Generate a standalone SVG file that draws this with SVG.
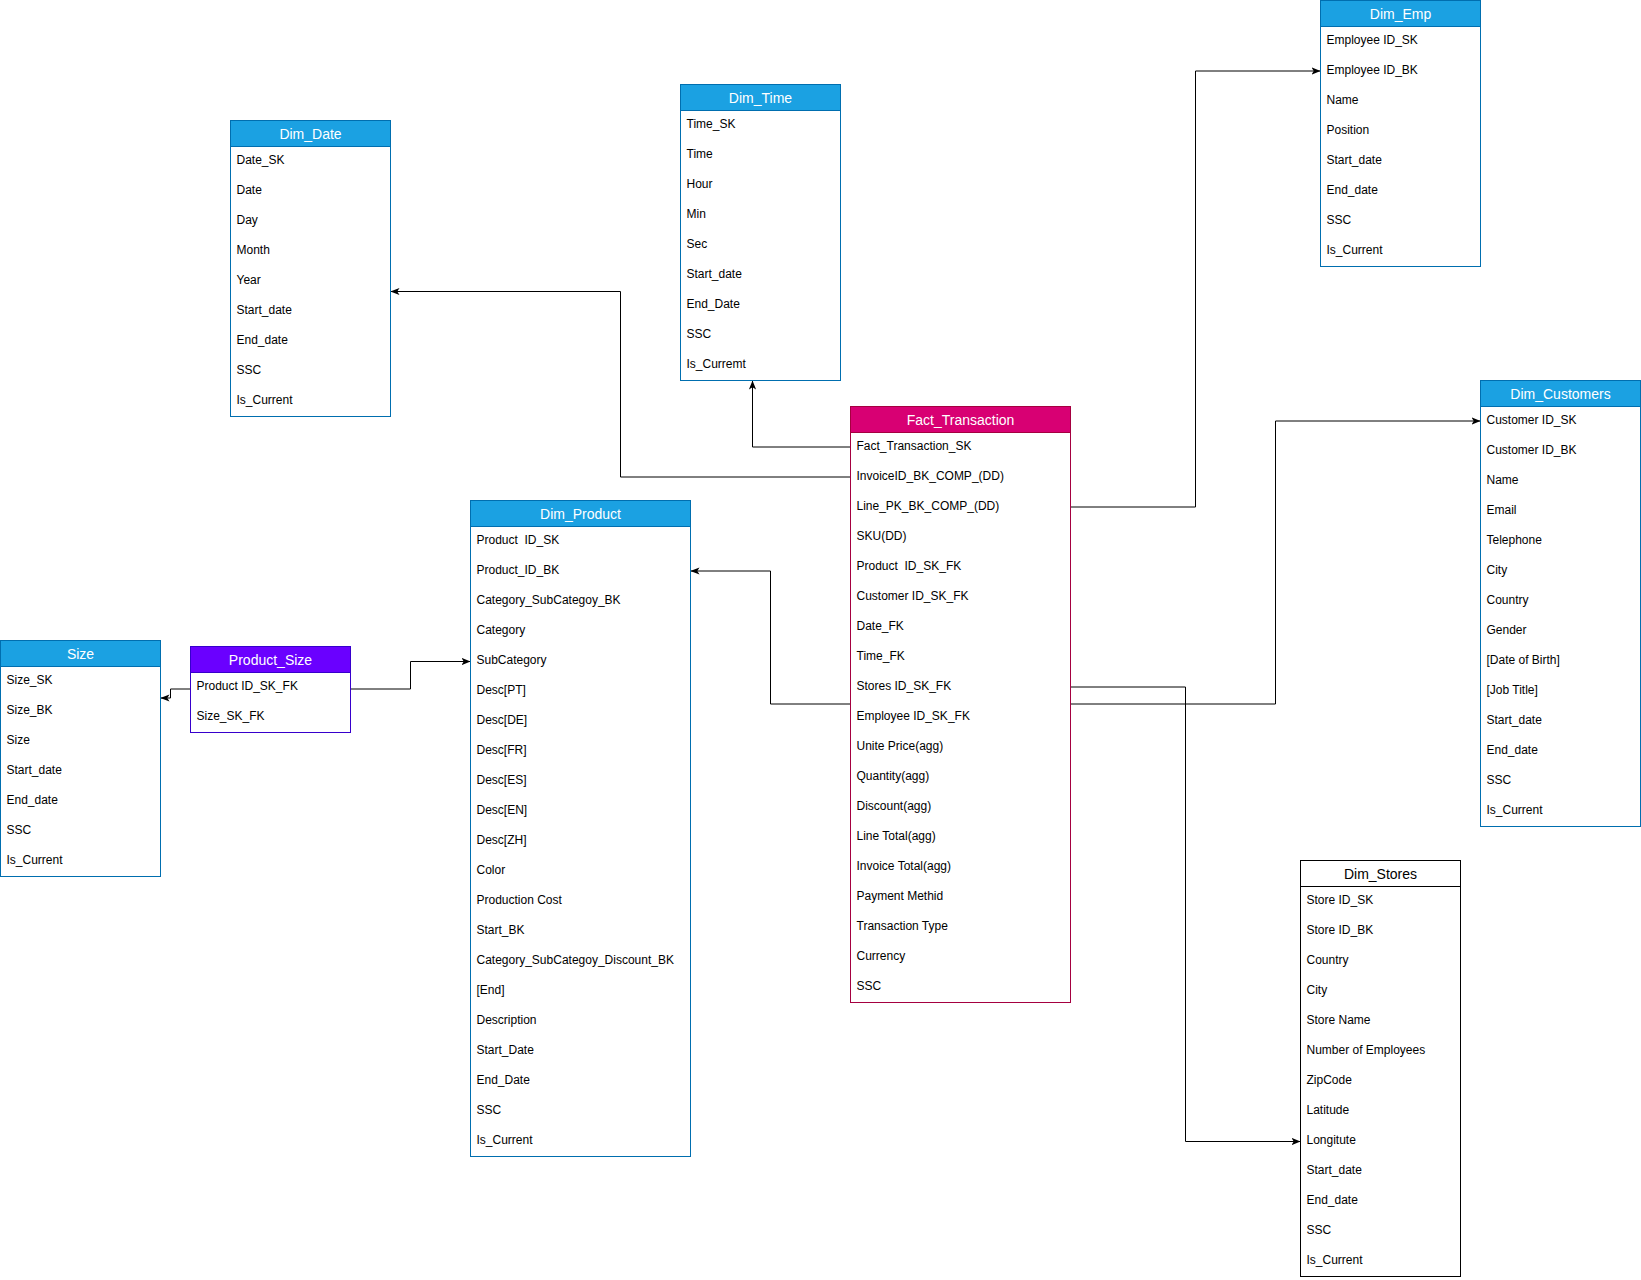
<svg xmlns="http://www.w3.org/2000/svg" width="1641" height="1280" viewBox="0 0 1641 1280">
<style>
text { font-family: "Liberation Sans", Arial, sans-serif; }
.row { font-size: 12px; fill: #000; }
.hdr { font-size: 14px; fill: #fff; text-anchor: middle; }
.hdrk { font-size: 14px; fill: #000; text-anchor: middle; }
.blue .box { fill: #fff; stroke: #006EAF; stroke-width: 1; }
.blue .head { fill: #1ba1e2; stroke: #006EAF; stroke-width: 1; }
.mag .box { fill: #fff; stroke: #A50040; stroke-width: 1; }
.mag .head { fill: #d80073; stroke: #A50040; stroke-width: 1; }
.vio .box { fill: #fff; stroke: #3700CC; stroke-width: 1; }
.vio .head { fill: #6a00ff; stroke: #3700CC; stroke-width: 1; }
.plain .box { fill: #fff; stroke: #000; stroke-width: 1; }
.plain .head { fill: #fff; stroke: #000; stroke-width: 1; }
.conn path { fill: none; stroke: #000; stroke-width: 1; marker-end: url(#arr); }
</style>
<defs>
<marker id="arr" viewBox="0 0 10 10" refX="10" refY="5" markerWidth="9" markerHeight="9" markerUnits="userSpaceOnUse" orient="auto">
<path d="M0,1 L10,5 L0,9 L2.5,5 z" fill="#000" stroke="none"/>
</marker>
</defs>
<rect width="1641" height="1280" fill="#fff"/>

<g id="connectors" class="conn">
<path d="M850.5,447 H752.5 V380.5"/>
<path d="M850.5,477 H620.5 V291.5 H390.5"/>
<path d="M1070.5,507 H1195.5 V71 H1320.5"/>
<path d="M850.5,704 H770.5 V571 H690.5"/>
<path d="M1070.5,704 H1275.5 V421 H1480.5"/>
<path d="M1070.5,687 H1185.5 V1141.5 H1300.5"/>
<path d="M190.5,689 H170.5 V698 H160.5"/>
<path d="M350.5,689 H410.5 V661.5 H470.5"/>
</g>

<g id="Dim_Date" class="blue">
<rect class="box" x="230.5" y="120.5" width="160" height="296"/>
<rect class="head" x="230.5" y="120.5" width="160" height="26"/>
<text class="hdr" x="310.5" y="138.5">Dim_Date</text>
<text class="row" x="236.5" y="164">Date_SK</text>
<text class="row" x="236.5" y="194">Date</text>
<text class="row" x="236.5" y="224">Day</text>
<text class="row" x="236.5" y="254">Month</text>
<text class="row" x="236.5" y="284">Year</text>
<text class="row" x="236.5" y="314">Start_date</text>
<text class="row" x="236.5" y="344">End_date</text>
<text class="row" x="236.5" y="374">SSC</text>
<text class="row" x="236.5" y="404">Is_Current</text>
</g>

<g id="Dim_Time" class="blue">
<rect class="box" x="680.5" y="84.5" width="160" height="296"/>
<rect class="head" x="680.5" y="84.5" width="160" height="26"/>
<text class="hdr" x="760.5" y="102.5">Dim_Time</text>
<text class="row" x="686.5" y="128">Time_SK</text>
<text class="row" x="686.5" y="158">Time</text>
<text class="row" x="686.5" y="188">Hour</text>
<text class="row" x="686.5" y="218">Min</text>
<text class="row" x="686.5" y="248">Sec</text>
<text class="row" x="686.5" y="278">Start_date</text>
<text class="row" x="686.5" y="308">End_Date</text>
<text class="row" x="686.5" y="338">SSC</text>
<text class="row" x="686.5" y="368">Is_Curremt</text>
</g>

<g id="Dim_Emp" class="blue">
<rect class="box" x="1320.5" y="0.5" width="160" height="266"/>
<rect class="head" x="1320.5" y="0.5" width="160" height="26"/>
<text class="hdr" x="1400.5" y="18.5">Dim_Emp</text>
<text class="row" x="1326.5" y="44">Employee ID_SK</text>
<text class="row" x="1326.5" y="74">Employee ID_BK</text>
<text class="row" x="1326.5" y="104">Name</text>
<text class="row" x="1326.5" y="134">Position</text>
<text class="row" x="1326.5" y="164">Start_date</text>
<text class="row" x="1326.5" y="194">End_date</text>
<text class="row" x="1326.5" y="224">SSC</text>
<text class="row" x="1326.5" y="254">Is_Current</text>
</g>

<g id="Fact_Transaction" class="mag">
<rect class="box" x="850.5" y="406.5" width="220" height="596"/>
<rect class="head" x="850.5" y="406.5" width="220" height="26"/>
<text class="hdr" x="960.5" y="424.5">Fact_Transaction</text>
<text class="row" x="856.5" y="450">Fact_Transaction_SK</text>
<text class="row" x="856.5" y="480">InvoiceID_BK_COMP_(DD)</text>
<text class="row" x="856.5" y="510">Line_PK_BK_COMP_(DD)</text>
<text class="row" x="856.5" y="540">SKU(DD)</text>
<text class="row" x="856.5" y="570" xml:space="preserve">Product  ID_SK_FK</text>
<text class="row" x="856.5" y="600">Customer ID_SK_FK</text>
<text class="row" x="856.5" y="630">Date_FK</text>
<text class="row" x="856.5" y="660">Time_FK</text>
<text class="row" x="856.5" y="690">Stores ID_SK_FK</text>
<text class="row" x="856.5" y="720">Employee ID_SK_FK</text>
<text class="row" x="856.5" y="750">Unite Price(agg)</text>
<text class="row" x="856.5" y="780">Quantity(agg)</text>
<text class="row" x="856.5" y="810">Discount(agg)</text>
<text class="row" x="856.5" y="840">Line Total(agg)</text>
<text class="row" x="856.5" y="870">Invoice Total(agg)</text>
<text class="row" x="856.5" y="900">Payment Methid</text>
<text class="row" x="856.5" y="930">Transaction Type</text>
<text class="row" x="856.5" y="960">Currency</text>
<text class="row" x="856.5" y="990">SSC</text>
</g>

<g id="Dim_Customers" class="blue">
<rect class="box" x="1480.5" y="380.5" width="160" height="446"/>
<rect class="head" x="1480.5" y="380.5" width="160" height="26"/>
<text class="hdr" x="1560.5" y="398.5">Dim_Customers</text>
<text class="row" x="1486.5" y="424">Customer ID_SK</text>
<text class="row" x="1486.5" y="454">Customer ID_BK</text>
<text class="row" x="1486.5" y="484">Name</text>
<text class="row" x="1486.5" y="514">Email</text>
<text class="row" x="1486.5" y="544">Telephone</text>
<text class="row" x="1486.5" y="574">City</text>
<text class="row" x="1486.5" y="604">Country</text>
<text class="row" x="1486.5" y="634">Gender</text>
<text class="row" x="1486.5" y="664">[Date of Birth]</text>
<text class="row" x="1486.5" y="694">[Job Title]</text>
<text class="row" x="1486.5" y="724">Start_date</text>
<text class="row" x="1486.5" y="754">End_date</text>
<text class="row" x="1486.5" y="784">SSC</text>
<text class="row" x="1486.5" y="814">Is_Current</text>
</g>

<g id="Dim_Product" class="blue">
<rect class="box" x="470.5" y="500.5" width="220" height="656"/>
<rect class="head" x="470.5" y="500.5" width="220" height="26"/>
<text class="hdr" x="580.5" y="518.5">Dim_Product</text>
<text class="row" x="476.5" y="544" xml:space="preserve">Product  ID_SK</text>
<text class="row" x="476.5" y="574">Product_ID_BK</text>
<text class="row" x="476.5" y="604">Category_SubCategoy_BK</text>
<text class="row" x="476.5" y="634">Category</text>
<text class="row" x="476.5" y="664">SubCategory</text>
<text class="row" x="476.5" y="694">Desc[PT]</text>
<text class="row" x="476.5" y="724">Desc[DE]</text>
<text class="row" x="476.5" y="754">Desc[FR]</text>
<text class="row" x="476.5" y="784">Desc[ES]</text>
<text class="row" x="476.5" y="814">Desc[EN]</text>
<text class="row" x="476.5" y="844">Desc[ZH]</text>
<text class="row" x="476.5" y="874">Color</text>
<text class="row" x="476.5" y="904">Production Cost</text>
<text class="row" x="476.5" y="934">Start_BK</text>
<text class="row" x="476.5" y="964">Category_SubCategoy_Discount_BK</text>
<text class="row" x="476.5" y="994">[End]</text>
<text class="row" x="476.5" y="1024">Description</text>
<text class="row" x="476.5" y="1054">Start_Date</text>
<text class="row" x="476.5" y="1084">End_Date</text>
<text class="row" x="476.5" y="1114">SSC</text>
<text class="row" x="476.5" y="1144">Is_Current</text>
</g>

<g id="Size" class="blue">
<rect class="box" x="0.5" y="640.5" width="160" height="236"/>
<rect class="head" x="0.5" y="640.5" width="160" height="26"/>
<text class="hdr" x="80.5" y="658.5">Size</text>
<text class="row" x="6.5" y="684">Size_SK</text>
<text class="row" x="6.5" y="714">Size_BK</text>
<text class="row" x="6.5" y="744">Size</text>
<text class="row" x="6.5" y="774">Start_date</text>
<text class="row" x="6.5" y="804">End_date</text>
<text class="row" x="6.5" y="834">SSC</text>
<text class="row" x="6.5" y="864">Is_Current</text>
</g>

<g id="Product_Size" class="vio">
<rect class="box" x="190.5" y="646.5" width="160" height="86"/>
<rect class="head" x="190.5" y="646.5" width="160" height="26"/>
<text class="hdr" x="270.5" y="664.5">Product_Size</text>
<text class="row" x="196.5" y="690">Product ID_SK_FK</text>
<text class="row" x="196.5" y="720">Size_SK_FK</text>
</g>

<g id="Dim_Stores" class="plain">
<rect class="box" x="1300.5" y="860.5" width="160" height="416"/>
<rect class="head" x="1300.5" y="860.5" width="160" height="26"/>
<text class="hdrk" x="1380.5" y="878.5">Dim_Stores</text>
<text class="row" x="1306.5" y="904">Store ID_SK</text>
<text class="row" x="1306.5" y="934">Store ID_BK</text>
<text class="row" x="1306.5" y="964">Country</text>
<text class="row" x="1306.5" y="994">City</text>
<text class="row" x="1306.5" y="1024">Store Name</text>
<text class="row" x="1306.5" y="1054">Number of Employees</text>
<text class="row" x="1306.5" y="1084">ZipCode</text>
<text class="row" x="1306.5" y="1114">Latitude</text>
<text class="row" x="1306.5" y="1144">Longitute</text>
<text class="row" x="1306.5" y="1174">Start_date</text>
<text class="row" x="1306.5" y="1204">End_date</text>
<text class="row" x="1306.5" y="1234">SSC</text>
<text class="row" x="1306.5" y="1264">Is_Current</text>
</g>
</svg>
